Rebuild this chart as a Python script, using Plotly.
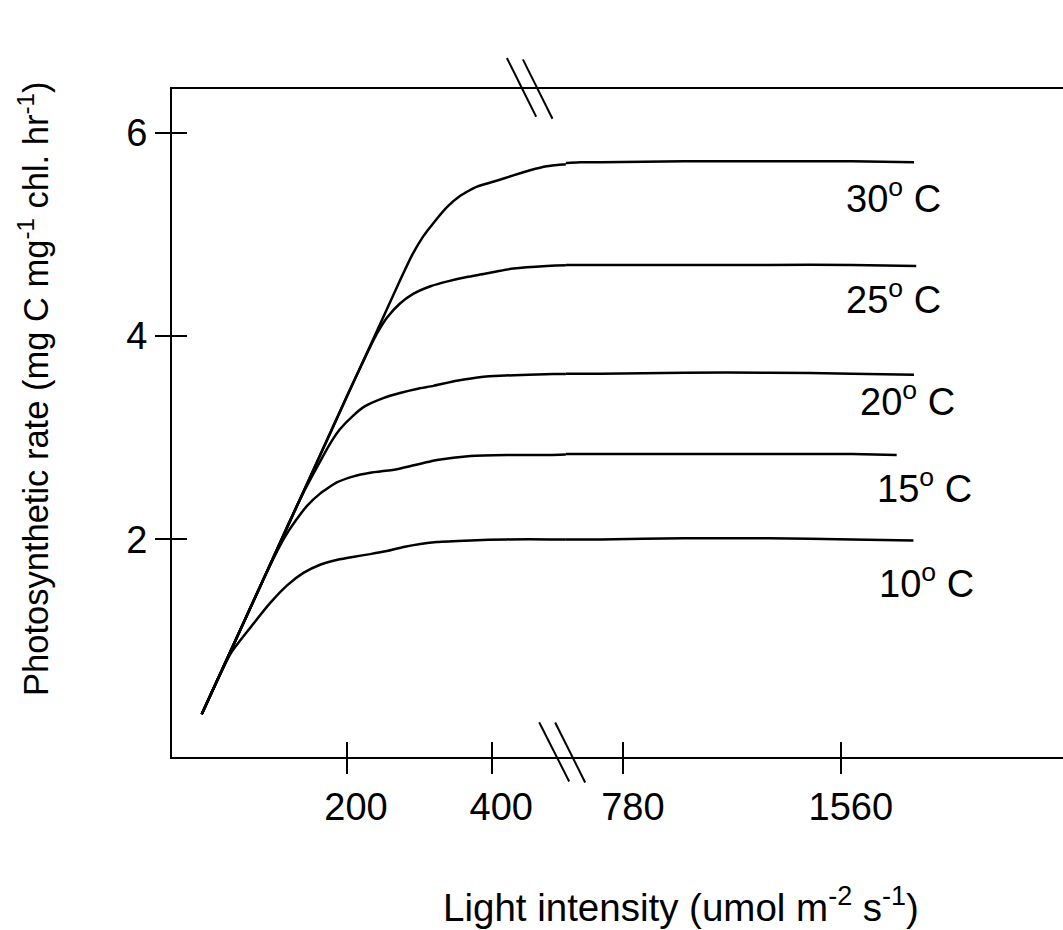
import plotly.graph_objects as go

# ---------------- data ----------------
temps = ["10", "15", "20", "25", "30"]

i_10 = [0, 40, 70, 95, 118, 140, 163, 187, 210, 232, 255, 278, 301, 324, 370, 420, 480, 520, 560, 700, 1000, 1300, 1600, 1820]
r_10 = [0.28, 0.88, 1.16, 1.38, 1.55, 1.67, 1.75, 1.80, 1.83, 1.855, 1.885, 1.925, 1.955, 1.975, 1.99, 2.00, 2.00, 2.00, 2.00, 2.00, 2.01, 2.01, 2.00, 1.99]

i_15 = [0, 40, 80, 100, 115, 130, 145, 163, 186, 209, 232, 269, 287, 324, 370, 420, 480, 520, 560, 700, 1000, 1300, 1600, 1760]
r_15 = [0.28, 0.905, 1.53, 1.83, 2.03, 2.19, 2.33, 2.45, 2.56, 2.62, 2.655, 2.69, 2.72, 2.78, 2.82, 2.83, 2.83, 2.84, 2.84, 2.84, 2.84, 2.84, 2.84, 2.83]

i_20 = [0, 40, 80, 120, 140, 158, 175, 190, 209, 225, 250, 273, 296, 319, 351, 388, 411, 450, 520, 560, 700, 1000, 1300, 1600, 1822]
r_20 = [0.28, 0.905, 1.53, 2.16, 2.46, 2.70, 2.92, 3.08, 3.22, 3.31, 3.39, 3.44, 3.48, 3.51, 3.56, 3.60, 3.61, 3.62, 3.63, 3.63, 3.63, 3.64, 3.64, 3.63, 3.62]

i_25 = [0, 80, 160, 200, 225, 241, 255, 273, 290, 315, 340, 365, 388, 406, 429, 475, 520, 560, 627, 700, 1000, 1300, 1600, 1830]
r_25 = [0.28, 1.53, 2.78, 3.41, 3.79, 4.02, 4.18, 4.32, 4.41, 4.49, 4.54, 4.58, 4.61, 4.635, 4.665, 4.69, 4.70, 4.70, 4.70, 4.70, 4.70, 4.70, 4.70, 4.69]

i_30 = [0, 80, 160, 240, 270, 290, 305, 320, 338, 356, 379, 407, 429, 452, 475, 520, 560, 627, 700, 1000, 1300, 1600, 1822]
r_30 = [0.28, 1.53, 2.78, 4.03, 4.50, 4.80, 4.98, 5.12, 5.27, 5.38, 5.47, 5.53, 5.58, 5.63, 5.67, 5.70, 5.70, 5.71, 5.71, 5.72, 5.72, 5.72, 5.71]

x_ticks_left = [200, 400]
x_ticks_right = [780, 1560]
y_ticks = [2, 4, 6]

# label anchor points (x in light units on right segment, y in rate units)
label_x = [1689, 1683, 1623, 1572, 1572]
label_y = [1.59, 2.526, 3.378, 4.387, 5.382]

# ---------------- layout geometry ----------------
W, H = 1063, 930
L, R_, T, B = 171.7, 0, 89.3, 172.5
plot_w = W - L - R_
plot_h = H - T - B
split = (565.7 - L) / plot_w
x_left_range = [-40.9, 501.4]
x_right_range = [576.1, 2355.3]
y_range = [-0.1406, 6.430]

FONT = "Liberation Sans, Arial, sans-serif"

curves = [(i_10, r_10), (i_15, r_15), (i_20, r_20), (i_25, r_25), (i_30, r_30)]

fig = go.Figure()
for xs, ys in curves:
    for xa in ("x", "x2"):
        fig.add_trace(go.Scatter(
            x=xs, y=ys, xaxis=xa, yaxis="y", mode="lines",
            line=dict(color="black", width=2.5, shape="spline", smoothing=0.5),
            showlegend=False, hoverinfo="skip",
        ))

axis_common = dict(showgrid=False, zeroline=False, linecolor="black", linewidth=2,
                   tickcolor="black", tickwidth=2, ticklen=15,
                   tickfont=dict(family=FONT, size=38, color="black"))

fig.update_layout(
    width=W, height=H,
    margin=dict(l=L, r=R_, t=T, b=B, pad=0),
    paper_bgcolor="white", plot_bgcolor="white",
    showlegend=False,
    xaxis=dict(domain=[0, split], range=x_left_range, anchor="y",
               tickmode="array", tickvals=x_ticks_left, ticktext=[str(v) for v in x_ticks_left],
               ticks="outside", showline=True, mirror=True, ticklabelshift=9, **axis_common),
    xaxis2=dict(domain=[split, 1], range=x_right_range, anchor="y",
                tickmode="array", tickvals=x_ticks_right, ticktext=[str(v) for v in x_ticks_right],
                ticks="outside", showline=True, mirror=True, ticklabelshift=10, **axis_common),
    xaxis3=dict(domain=[0, split], range=x_left_range, anchor="y", overlaying="x",
                tickmode="array", tickvals=x_ticks_left, ticks="inside",
                showticklabels=False, showline=False, **axis_common),
    xaxis4=dict(domain=[split, 1], range=x_right_range, anchor="y", overlaying="x2",
                tickmode="array", tickvals=x_ticks_right, ticks="inside",
                showticklabels=False, showline=False, **axis_common),
    yaxis=dict(domain=[0, 1], range=y_range, anchor="x",
               tickmode="array", tickvals=y_ticks, ticktext=[str(v) for v in y_ticks],
               ticks="outside", showline=True, mirror=False, **axis_common),
    yaxis2=dict(domain=[0, 1], range=y_range, anchor="x", overlaying="y",
                tickmode="array", tickvals=y_ticks, ticks="inside",
                showticklabels=False, showline=False, **axis_common),
)

# inner halves of the crossing ticks need traces on the overlay axes
fig.add_trace(go.Scatter(x=[None], y=[None], xaxis="x3", yaxis="y2", showlegend=False, hoverinfo="skip"))
fig.add_trace(go.Scatter(x=[None], y=[None], xaxis="x4", yaxis="y2", showlegend=False, hoverinfo="skip"))

# temperature labels
for t, lx, ly in zip(temps, label_x, label_y):
    fig.add_annotation(x=lx, y=ly, xref="x2", yref="y", text=f"{t}<sup>o</sup> C",
                       showarrow=False, xanchor="left", yanchor="middle",
                       font=dict(family=FONT, size=38, color="black"))

# axis titles
def px_to_paper_x(px):
    return (px - L) / plot_w

def py_to_paper_y(py):
    return (H - B - py) / plot_h

fig.add_annotation(x=px_to_paper_x(681), y=py_to_paper_y(906), xref="paper", yref="paper",
                   text="Light intensity (umol m<sup>-2</sup> s<sup>-1</sup>)", showarrow=False,
                   xanchor="center", yanchor="middle", font=dict(family=FONT, size=38.5, color="black"))
fig.add_annotation(x=px_to_paper_x(33), y=py_to_paper_y(389), xref="paper", yref="paper",
                   text="Photosynthetic rate (mg C mg<sup>-1</sup> chl. hr<sup>-1</sup>)", showarrow=False,
                   textangle=-90, xanchor="center", yanchor="middle",
                   font=dict(family=FONT, size=34.5, color="black"))

# axis break marks
breaks = [((539, 722.7), (569, 782)), ((555, 723), (585, 783)),
          ((506.7, 58.3), (536, 117)), ((522.7, 59.7), (552.3, 119))]
for (x0, y0), (x1, y1) in breaks:
    fig.add_shape(type="line", xref="paper", yref="paper",
                  x0=px_to_paper_x(x0), y0=py_to_paper_y(y0),
                  x1=px_to_paper_x(x1), y1=py_to_paper_y(y1),
                  line=dict(color="black", width=2))

fig.write_html("out.html", config={"displayModeBar": False},
               post_script="document.body.style.margin='0';")
